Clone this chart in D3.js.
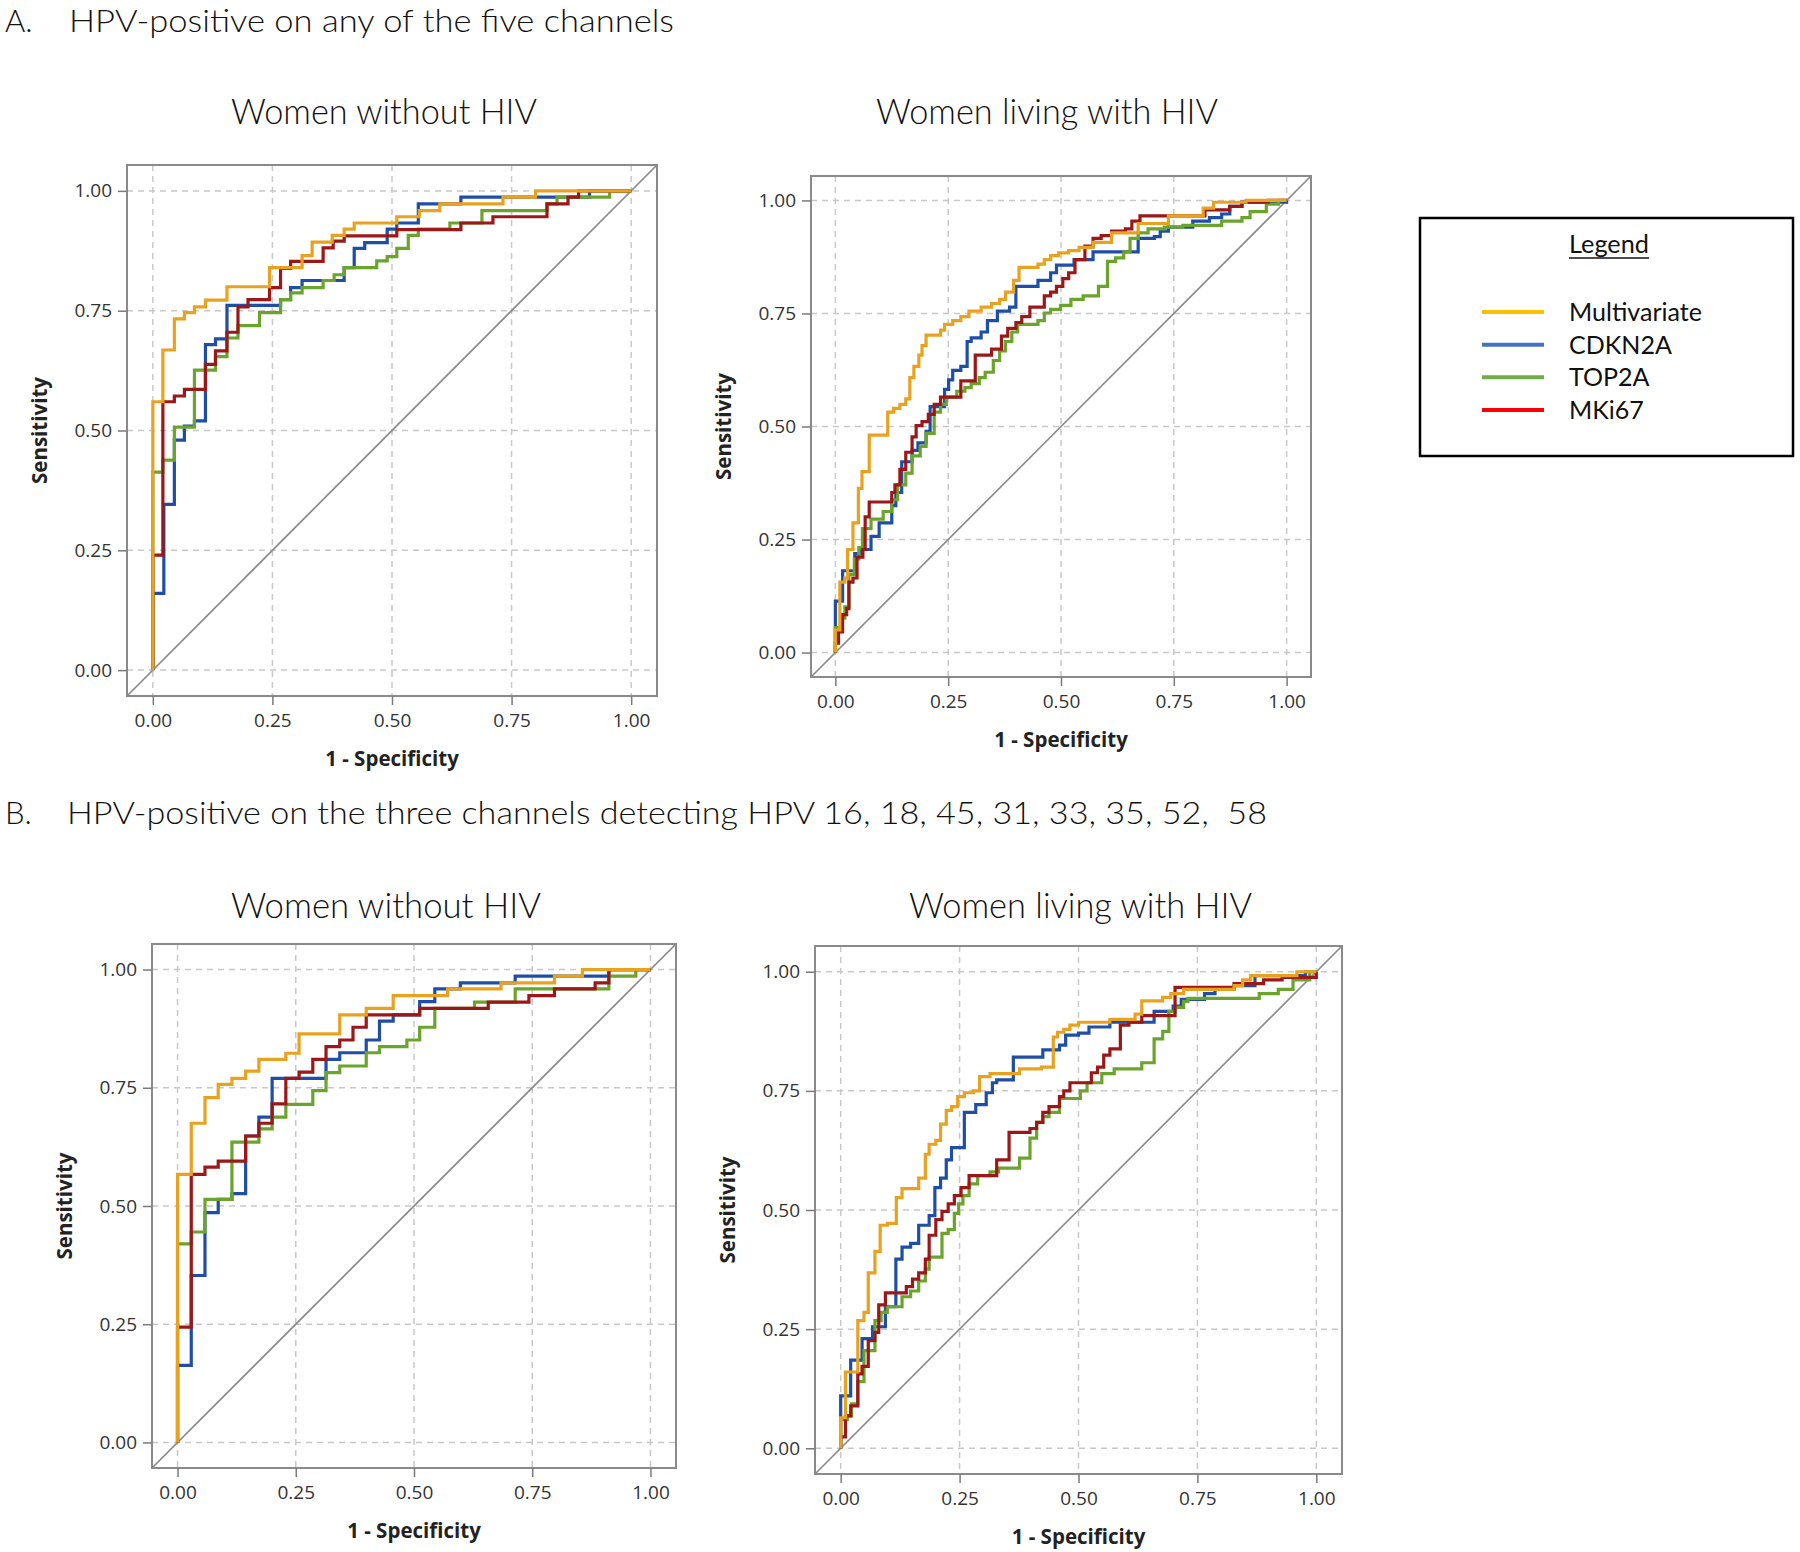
<!DOCTYPE html>
<html>
<head>
<meta charset="utf-8">
<script src="https://cdnjs.cloudflare.com/ajax/libs/d3/7.8.5/d3.min.js"></script>
<style>
  html, body { margin: 0; padding: 0; background: #fff; }
  svg { display: block; }
</style>
</head>
<body>
<svg id="chart" width="1800" height="1552"></svg>
<script>
// ---------------- DATA ----------------
const seriesNames = ["Multivariate", "CDKN2A", "TOP2A", "MKi67"];
const tickValues = [0, 0.25, 0.5, 0.75, 1];
const tickLabels = ["0.00", "0.25", "0.50", "0.75", "1.00"];
const sectionLetters = ["A.", "B."];
const sectionTitles = [
  "HPV-positive on any of the five channels",
  "HPV-positive on the three channels detecting HPV 16, 18, 45, 31, 33, 35, 52,  58"
];
const panelTitles = ["Women without HIV", "Women living with HIV", "Women without HIV", "Women living with HIV"];
const xAxisLabel = "1 - Specificity";
const yAxisLabel = "Sensitivity";
const legendTitle = "Legend";

// ROC points: [1 - specificity, sensitivity] (vertical jump at each x)
// Panel A, women without HIV
const A_noHIV_Multivariate = [[0,0],[0,0.56],[0.021,0.668],[0.045,0.733],[0.066,0.746],[0.087,0.758],[0.11,0.772],[0.155,0.80],[0.244,0.84],[0.312,0.865],[0.333,0.893],[0.375,0.907],[0.40,0.92],[0.421,0.933],[0.51,0.946],[0.557,0.959],[0.60,0.973],[0.732,0.987],[0.80,1.0],[1,1]];
const A_noHIV_CDKN2A = [[0,0],[0,0.16],[0.023,0.346],[0.045,0.48],[0.066,0.509],[0.087,0.52],[0.11,0.679],[0.131,0.691],[0.155,0.761],[0.267,0.773],[0.288,0.798],[0.312,0.813],[0.40,0.84],[0.421,0.88],[0.443,0.892],[0.49,0.92],[0.51,0.933],[0.555,0.973],[0.644,0.987],[0.913,1.0],[1,1]];
const A_noHIV_TOP2A = [[0,0],[0,0.413],[0.021,0.438],[0.045,0.507],[0.087,0.626],[0.131,0.654],[0.155,0.693],[0.178,0.719],[0.223,0.746],[0.267,0.773],[0.288,0.787],[0.312,0.798],[0.356,0.813],[0.379,0.825],[0.40,0.84],[0.468,0.854],[0.49,0.863],[0.51,0.88],[0.534,0.907],[0.555,0.92],[0.621,0.933],[0.688,0.959],[0.824,0.973],[0.845,0.987],[0.955,1.0],[1,1]];
const A_noHIV_MKi67 = [[0,0],[0,0.24],[0.021,0.56],[0.045,0.572],[0.066,0.586],[0.11,0.638],[0.131,0.666],[0.155,0.705],[0.178,0.758],[0.199,0.773],[0.244,0.798],[0.267,0.838],[0.288,0.853],[0.356,0.881],[0.377,0.895],[0.40,0.906],[0.51,0.919],[0.644,0.933],[0.711,0.946],[0.824,0.973],[0.868,0.987],[0.89,1.0],[1,1]];

// Panel A, women living with HIV
const A_HIV_Multivariate = [[0,0],[0,0.05],[0.010,0.156],[0.021,0.165],[0.027,0.228],[0.039,0.287],[0.051,0.363],[0.059,0.40],[0.075,0.481],[0.116,0.532],[0.129,0.54],[0.143,0.549],[0.156,0.561],[0.165,0.608],[0.174,0.633],[0.185,0.658],[0.192,0.679],[0.201,0.702],[0.233,0.713],[0.242,0.726],[0.260,0.734],[0.278,0.743],[0.296,0.755],[0.323,0.764],[0.346,0.772],[0.364,0.781],[0.377,0.797],[0.395,0.823],[0.407,0.852],[0.449,0.859],[0.463,0.869],[0.477,0.878],[0.495,0.884],[0.517,0.889],[0.540,0.896],[0.571,0.907],[0.612,0.928],[0.671,0.949],[0.738,0.966],[0.815,0.983],[0.838,0.996],[0.91,1.0],[1,1]];
const A_HIV_CDKN2A = [[0,0],[0,0.114],[0.016,0.181],[0.043,0.219],[0.057,0.228],[0.079,0.257],[0.097,0.287],[0.125,0.325],[0.134,0.354],[0.147,0.422],[0.170,0.447],[0.183,0.464],[0.201,0.489],[0.210,0.544],[0.242,0.582],[0.251,0.603],[0.260,0.624],[0.278,0.633],[0.292,0.688],[0.301,0.696],[0.323,0.709],[0.337,0.734],[0.359,0.755],[0.386,0.764],[0.400,0.810],[0.449,0.823],[0.477,0.840],[0.490,0.857],[0.529,0.869],[0.571,0.886],[0.671,0.916],[0.707,0.920],[0.720,0.932],[0.738,0.941],[0.792,0.954],[0.829,0.962],[0.856,0.970],[0.874,0.987],[0.901,0.996],[1,1]];
const A_HIV_TOP2A = [[0,0],[0,0.055],[0.012,0.076],[0.021,0.101],[0.030,0.173],[0.042,0.207],[0.052,0.232],[0.060,0.274],[0.079,0.295],[0.106,0.312],[0.125,0.338],[0.138,0.371],[0.156,0.397],[0.170,0.435],[0.188,0.456],[0.201,0.485],[0.219,0.532],[0.233,0.549],[0.246,0.565],[0.269,0.578],[0.287,0.586],[0.301,0.595],[0.319,0.608],[0.332,0.620],[0.350,0.646],[0.364,0.667],[0.377,0.688],[0.391,0.709],[0.404,0.726],[0.449,0.734],[0.463,0.751],[0.477,0.759],[0.499,0.768],[0.522,0.781],[0.549,0.789],[0.583,0.810],[0.603,0.865],[0.621,0.873],[0.639,0.886],[0.653,0.916],[0.671,0.928],[0.693,0.937],[0.729,0.941],[0.770,0.945],[0.856,0.954],[0.901,0.962],[0.919,0.975],[0.955,0.992],[0.982,1.0],[1,1]];
const A_HIV_MKi67 = [[0,0],[0,0.021],[0.007,0.046],[0.016,0.084],[0.025,0.097],[0.030,0.156],[0.039,0.165],[0.048,0.211],[0.061,0.228],[0.066,0.300],[0.075,0.333],[0.125,0.354],[0.132,0.371],[0.143,0.405],[0.156,0.443],[0.170,0.477],[0.179,0.502],[0.192,0.511],[0.206,0.527],[0.219,0.549],[0.233,0.565],[0.278,0.601],[0.310,0.658],[0.346,0.671],[0.368,0.700],[0.382,0.717],[0.400,0.730],[0.413,0.743],[0.431,0.764],[0.463,0.789],[0.477,0.797],[0.490,0.810],[0.504,0.827],[0.517,0.840],[0.531,0.869],[0.553,0.899],[0.571,0.916],[0.589,0.922],[0.612,0.932],[0.643,0.937],[0.657,0.954],[0.675,0.966],[0.819,0.979],[0.874,0.987],[0.901,0.996],[0.959,1.0],[1,1]];

// Panel B, women without HIV
const B_noHIV_Multivariate = [[0,0],[0,0.567],[0.029,0.675],[0.058,0.729],[0.086,0.757],[0.115,0.770],[0.144,0.785],[0.172,0.810],[0.229,0.823],[0.257,0.864],[0.343,0.904],[0.399,0.918],[0.456,0.945],[0.571,0.959],[0.684,0.972],[0.797,0.986],[0.856,1.0],[1,1]];
const B_noHIV_CDKN2A = [[0,0],[0,0.163],[0.029,0.353],[0.058,0.486],[0.086,0.514],[0.115,0.526],[0.144,0.648],[0.172,0.688],[0.200,0.770],[0.314,0.810],[0.343,0.824],[0.399,0.851],[0.427,0.891],[0.456,0.904],[0.512,0.932],[0.544,0.959],[0.598,0.972],[0.714,0.986],[0.912,1.0],[1,1]];
const B_noHIV_TOP2A = [[0,0],[0,0.42],[0.029,0.445],[0.058,0.514],[0.115,0.635],[0.172,0.663],[0.200,0.688],[0.229,0.715],[0.286,0.744],[0.314,0.782],[0.343,0.796],[0.399,0.824],[0.427,0.837],[0.485,0.851],[0.512,0.878],[0.544,0.918],[0.628,0.931],[0.714,0.959],[0.912,0.986],[0.969,1.0],[1,1]];
const B_noHIV_MKi67 = [[0,0],[0,0.244],[0.029,0.567],[0.058,0.582],[0.086,0.595],[0.144,0.648],[0.172,0.675],[0.200,0.716],[0.229,0.770],[0.257,0.783],[0.286,0.810],[0.314,0.837],[0.343,0.851],[0.371,0.878],[0.399,0.904],[0.512,0.918],[0.657,0.931],[0.743,0.945],[0.797,0.959],[0.883,0.972],[0.912,1.0],[1,1]];

// Panel B, women living with HIV
const B_HIV_Multivariate = [[0,0],[0,0.064],[0.010,0.160],[0.036,0.268],[0.049,0.285],[0.058,0.368],[0.072,0.413],[0.083,0.468],[0.098,0.472],[0.117,0.526],[0.129,0.545],[0.164,0.567],[0.178,0.617],[0.186,0.638],[0.200,0.646],[0.210,0.680],[0.222,0.709],[0.233,0.717],[0.246,0.738],[0.260,0.746],[0.279,0.750],[0.292,0.780],[0.314,0.786],[0.376,0.796],[0.422,0.800],[0.447,0.863],[0.456,0.873],[0.469,0.879],[0.482,0.888],[0.500,0.894],[0.566,0.900],[0.619,0.911],[0.633,0.939],[0.677,0.946],[0.694,0.954],[0.721,0.963],[0.827,0.971],[0.845,0.983],[0.862,0.992],[0.959,1.0],[1,1]];
const B_HIV_CDKN2A = [[0,0],[0,0.110],[0.021,0.185],[0.045,0.230],[0.067,0.255],[0.094,0.297],[0.116,0.397],[0.129,0.422],[0.147,0.430],[0.164,0.468],[0.186,0.488],[0.198,0.547],[0.210,0.567],[0.222,0.605],[0.233,0.631],[0.260,0.705],[0.284,0.721],[0.306,0.746],[0.319,0.767],[0.328,0.773],[0.363,0.821],[0.425,0.836],[0.460,0.846],[0.473,0.867],[0.500,0.871],[0.522,0.884],[0.566,0.894],[0.659,0.917],[0.699,0.928],[0.716,0.942],[0.765,0.954],[0.787,0.963],[0.827,0.971],[0.871,0.992],[0.977,1.0],[1,1]];
const B_HIV_TOP2A = [[0,0],[0,0.060],[0.014,0.068],[0.023,0.093],[0.036,0.14],[0.049,0.205],[0.072,0.268],[0.085,0.285],[0.098,0.297],[0.129,0.318],[0.147,0.330],[0.164,0.351],[0.178,0.376],[0.186,0.401],[0.213,0.451],[0.226,0.459],[0.239,0.493],[0.248,0.513],[0.257,0.530],[0.270,0.555],[0.288,0.572],[0.314,0.580],[0.332,0.588],[0.376,0.609],[0.398,0.651],[0.412,0.684],[0.425,0.696],[0.438,0.705],[0.460,0.734],[0.504,0.750],[0.518,0.767],[0.549,0.786],[0.575,0.796],[0.633,0.809],[0.659,0.859],[0.677,0.875],[0.690,0.917],[0.703,0.925],[0.721,0.938],[0.730,0.944],[0.880,0.954],[0.920,0.963],[0.951,0.983],[0.986,1.0],[1,1]];
const B_HIV_MKi67 = [[0,0],[0,0.024],[0.010,0.068],[0.021,0.089],[0.036,0.156],[0.045,0.172],[0.058,0.226],[0.072,0.243],[0.080,0.301],[0.094,0.326],[0.138,0.339],[0.151,0.355],[0.164,0.368],[0.178,0.397],[0.186,0.447],[0.200,0.480],[0.213,0.497],[0.226,0.513],[0.239,0.530],[0.253,0.547],[0.270,0.572],[0.328,0.605],[0.354,0.663],[0.398,0.671],[0.412,0.684],[0.425,0.705],[0.438,0.717],[0.460,0.738],[0.469,0.750],[0.482,0.767],[0.527,0.788],[0.540,0.800],[0.553,0.825],[0.566,0.838],[0.588,0.888],[0.606,0.894],[0.633,0.908],[0.703,0.967],[0.827,0.975],[0.889,0.983],[0.928,0.988],[1,1]];

// ---------------- STYLE / LAYOUT ----------------
const curveColors = { Multivariate: "#E9A21F", CDKN2A: "#1E4EA6", TOP2A: "#6BA42C", MKi67: "#9C1717" };
const legendColors = { Multivariate: "#FFC000", CDKN2A: "#4472C4", TOP2A: "#70AD47", MKi67: "#FF0000" };
const drawOrder = ["CDKN2A", "TOP2A", "MKi67", "Multivariate"];
const PAD = 0.054;

const panels = [
  { frame: { x: 127, y: 165, w: 530, h: 531 }, data: { Multivariate: A_noHIV_Multivariate, CDKN2A: A_noHIV_CDKN2A, TOP2A: A_noHIV_TOP2A, MKi67: A_noHIV_MKi67 } },
  { frame: { x: 811, y: 176, w: 500, h: 501 }, data: { Multivariate: A_HIV_Multivariate, CDKN2A: A_HIV_CDKN2A, TOP2A: A_HIV_TOP2A, MKi67: A_HIV_MKi67 } },
  { frame: { x: 152, y: 944, w: 524, h: 524 }, data: { Multivariate: B_noHIV_Multivariate, CDKN2A: B_noHIV_CDKN2A, TOP2A: B_noHIV_TOP2A, MKi67: B_noHIV_MKi67 } },
  { frame: { x: 815, y: 946, w: 527, h: 528 }, data: { Multivariate: B_HIV_Multivariate, CDKN2A: B_HIV_CDKN2A, TOP2A: B_HIV_TOP2A, MKi67: B_HIV_MKi67 } }
];

// text layout: [x, baseline, width]
const sectionLetterPos = [[5, 32], [5, 824]];
const sectionTitlePos = [[69, 32, 605], [67, 824, 1200]];
const panelTitlePos = [[231, 124, 306], [876, 124, 342], [231, 918, 310], [909, 918, 343]];

const titleFont = "Lato, 'Open Sans', sans-serif";
const axisFont = "'Open Sans', 'DejaVu Sans', sans-serif";

const svg = d3.select("#chart");

// ---- titles ----
function fittedText(x, y, str, width, size) {
  const t = svg.append("text")
    .attr("x", x).attr("y", y)
    .attr("font-family", titleFont).attr("font-weight", 300)
    .attr("font-size", size).attr("fill", "#111")
    .style("white-space", "pre")
    .text(str);
  if (width) t.attr("textLength", width).attr("lengthAdjust", "spacingAndGlyphs");
  return t;
}
sectionLetters.forEach((s, i) => fittedText(sectionLetterPos[i][0], sectionLetterPos[i][1], s, null, 31));
sectionTitles.forEach((s, i) => fittedText(sectionTitlePos[i][0], sectionTitlePos[i][1], s, sectionTitlePos[i][2], 31));
panelTitles.forEach((s, i) => fittedText(panelTitlePos[i][0], panelTitlePos[i][1], s, panelTitlePos[i][2], 35));

// ---- panels ----
panels.forEach(p => {
  const f = p.frame;
  const x = d3.scaleLinear().domain([-PAD, 1 + PAD]).range([f.x, f.x + f.w]);
  const y = d3.scaleLinear().domain([-PAD, 1 + PAD]).range([f.y + f.h, f.y]);
  const g = svg.append("g");

  // grid
  g.append("g").selectAll("line").data(tickValues).join("line")
    .attr("x1", d => x(d)).attr("x2", d => x(d))
    .attr("y1", f.y).attr("y2", f.y + f.h)
    .attr("stroke", "#c8c8c8").attr("stroke-width", 1.5).attr("stroke-dasharray", "6,5");
  g.append("g").selectAll("line").data(tickValues).join("line")
    .attr("y1", d => y(d)).attr("y2", d => y(d))
    .attr("x1", f.x).attr("x2", f.x + f.w)
    .attr("stroke", "#c8c8c8").attr("stroke-width", 1.5).attr("stroke-dasharray", "6,5");

  // diagonal reference
  g.append("line")
    .attr("x1", x(-PAD)).attr("y1", y(-PAD)).attr("x2", x(1 + PAD)).attr("y2", y(1 + PAD))
    .attr("stroke", "#8a8a8a").attr("stroke-width", 1.7);

  // curves
  const line = d3.line().x(d => x(d[0])).y(d => y(d[1])).curve(d3.curveStepAfter);
  drawOrder.forEach(name => {
    g.append("path").datum(p.data[name])
      .attr("d", line)
      .attr("fill", "none")
      .attr("stroke", curveColors[name])
      .attr("stroke-width", 3.2)
      .attr("stroke-linejoin", "miter");
  });

  // frame
  g.append("rect").attr("x", f.x).attr("y", f.y).attr("width", f.w).attr("height", f.h)
    .attr("fill", "none").attr("stroke", "#8a8a8a").attr("stroke-width", 2);

  // axes
  const xAxis = d3.axisBottom(x).tickValues(tickValues).tickFormat((d, i) => tickLabels[i]).tickSize(9).tickPadding(9);
  const yAxis = d3.axisLeft(y).tickValues(tickValues).tickFormat((d, i) => tickLabels[i]).tickSize(9).tickPadding(6);
  const gx = g.append("g").attr("transform", `translate(0,${f.y + f.h})`).call(xAxis);
  const gy = g.append("g").attr("transform", `translate(${f.x},0)`).call(yAxis);
  [gx, gy].forEach(ax => {
    ax.select(".domain").remove();
    ax.selectAll(".tick line").attr("stroke", "#7a7a7a").attr("stroke-width", 1.5);
    ax.selectAll(".tick text").attr("font-family", axisFont).attr("font-size", 19).attr("fill", "#333");
  });

  // axis labels
  g.append("text")
    .attr("x", (x(0) + x(1)) / 2).attr("y", f.y + f.h + 70)
    .attr("text-anchor", "middle")
    .attr("font-family", axisFont).attr("font-weight", 700).attr("font-size", 20.5).attr("fill", "#222")
    .text(xAxisLabel);
  g.append("text")
    .attr("transform", `translate(${f.x - 80},${(y(0) + y(1)) / 2}) rotate(-90)`)
    .attr("text-anchor", "middle")
    .attr("font-family", axisFont).attr("font-weight", 700).attr("font-size", 20.5).attr("fill", "#222")
    .text(yAxisLabel);
});

// ---- legend ----
const lg = svg.append("g");
lg.append("rect").attr("x", 1420).attr("y", 218).attr("width", 373).attr("height", 238)
  .attr("fill", "none").attr("stroke", "#000").attr("stroke-width", 2.5);
lg.append("text").attr("x", 1609).attr("y", 253).attr("text-anchor", "middle")
  .attr("font-family", titleFont).attr("font-size", 25).attr("fill", "#111")
  .attr("textLength", 80).attr("lengthAdjust", "spacingAndGlyphs")
  .text(legendTitle);
lg.append("line").attr("x1", 1569).attr("x2", 1649).attr("y1", 258).attr("y2", 258)
  .attr("stroke", "#111").attr("stroke-width", 1.5);

const legendY = d3.scalePoint().domain(seriesNames).range([312, 410]);
const items = lg.selectAll("g.item").data(seriesNames).join("g").attr("class", "item");
items.append("line")
  .attr("x1", 1482).attr("x2", 1544)
  .attr("y1", d => legendY(d)).attr("y2", d => legendY(d))
  .attr("stroke", d => legendColors[d]).attr("stroke-width", 4);
items.append("text")
  .attr("x", 1569).attr("y", d => legendY(d) + 9)
  .attr("font-family", titleFont).attr("font-size", 25).attr("fill", "#111")
  .text(d => d);
const firstLabel = items.select("text").node();
const w0 = firstLabel.getComputedTextLength();
if (w0 > 0) items.selectAll("text").attr("font-size", 25 * 133 / w0);
</script>
</body>
</html>
